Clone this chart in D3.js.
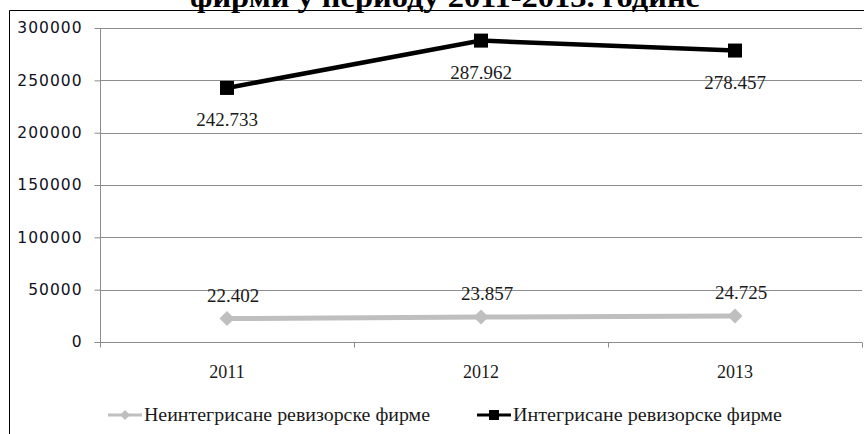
<!DOCTYPE html>
<html><head><meta charset="utf-8">
<script src="https://cdn.jsdelivr.net/npm/d3@7"></script>
<style>html,body{margin:0;padding:0;background:#fff;}svg{display:block;}</style>
</head><body>
<svg id="chart" width="864" height="434"></svg>
<script>
const title = "фирми у периоду 2011-2013. године";
const years = ["2011", "2012", "2013"];
const nonIntegrated = [22402, 23857, 24725];
const integrated = [242733, 287962, 278457];
const nonIntegratedLabels = ["22.402", "23.857", "24.725"];
const integratedLabels = ["242.733", "287.962", "278.457"];
const yTicks = [0, 50000, 100000, 150000, 200000, 250000, 300000];
const seriesNames = ["Неинтегрисане ревизорске фирме", "Интегрисане ревизорске фирме"];

const svg = d3.select("#chart");
const W = 864, H = 434;
const plot = {left: 100, right: 862, top: 28, bottom: 342};

svg.append("rect").attr("width", W).attr("height", H).attr("fill", "#fff");
// outer border
svg.append("path").attr("d", `M9.5,${H} L9.5,10.5 L${W},10.5`).attr("fill","none").attr("stroke","#000").attr("stroke-width",1);

// title (cut at top, as in the reference)
svg.append("text").attr("x", 445).attr("y", 7).attr("text-anchor","middle")
  .attr("font-family","Liberation Serif, Times New Roman, serif").attr("font-weight","bold")
  .attr("font-size", 30).attr("textLength", 510).attr("lengthAdjust", "spacingAndGlyphs")
  .attr("fill","#000").text(title);

const x = d3.scaleBand().domain(years).range([plot.left, plot.right]);
const y = d3.scaleLinear().domain([0, 300000]).range([plot.bottom, plot.top]);

// gridlines
svg.append("g").selectAll("line").data(yTicks.filter(d => d > 0)).join("line")
  .attr("x1", plot.left).attr("x2", plot.right)
  .attr("y1", d => Math.round(y(d)) + 0.5).attr("y2", d => Math.round(y(d)) + 0.5)
  .attr("stroke", "#8c8c8c").attr("stroke-width", 1);

// y axis
const yAxis = svg.append("g").attr("transform", `translate(${plot.left + 0.5},0)`)
  .call(d3.axisLeft(y).tickValues(yTicks).tickSize(6).tickPadding(12).tickFormat(d3.format("d")));
yAxis.select(".domain").attr("stroke", "#8c8c8c").attr("d", `M0,${plot.bottom} V${plot.top}`);
yAxis.selectAll(".tick line").attr("stroke", "#8c8c8c");
yAxis.selectAll(".tick text").attr("font-family", "DejaVu Sans, Tahoma, sans-serif")
  .attr("font-size", 15.5).attr("letter-spacing", "1px").attr("fill", "#111122");

// x axis
const xAxisG = svg.append("g").attr("transform", `translate(0,${Math.round(plot.bottom) + 0.5})`);
xAxisG.append("line").attr("x1", plot.left).attr("x2", plot.right).attr("stroke", "#8c8c8c");
const bounds = [plot.left, ...years.map(d => x(d) + x.bandwidth())];
xAxisG.selectAll("line.tk").data(bounds).join("line").attr("class","tk")
  .attr("x1", d => Math.round(d) + 0.5).attr("x2", d => Math.round(d) + 0.5)
  .attr("y1", 0).attr("y2", 5).attr("stroke", "#8c8c8c");
xAxisG.selectAll("text").data(years).join("text")
  .attr("x", d => x(d) + x.bandwidth() / 2).attr("y", 35).attr("text-anchor", "middle")
  .attr("font-family", "Liberation Serif, Times New Roman, serif").attr("font-size", 18)
  .attr("fill", "#1a1a1a").text(d => d);

const cx = d => x(d) + x.bandwidth() / 2;
const line = d3.line().x(d => cx(d[0])).y(d => y(d[1]));

// gray series
const grayColor = "#bfbfbf";
svg.append("path").datum(years.map((d, i) => [d, nonIntegrated[i]]))
  .attr("d", line).attr("fill", "none").attr("stroke", grayColor).attr("stroke-width", 5);
svg.append("g").selectAll("path").data(years.map((d, i) => [d, nonIntegrated[i]])).join("path")
  .attr("transform", d => `translate(${cx(d[0])},${y(d[1])})`)
  .attr("d", "M0,-7.5 L7.5,0 L0,7.5 L-7.5,0 Z").attr("fill", grayColor);

// black series
svg.append("path").datum(years.map((d, i) => [d, integrated[i]]))
  .attr("d", line).attr("fill", "none").attr("stroke", "#000").attr("stroke-width", 4.5);
svg.append("g").selectAll("rect").data(years.map((d, i) => [d, integrated[i]])).join("rect")
  .attr("x", d => cx(d[0]) - 7).attr("y", d => y(d[1]) - 7).attr("width", 14).attr("height", 14).attr("fill", "#000");

// data labels
const lblFont = "Liberation Serif, Times New Roman, serif";
svg.append("g").selectAll("text").data(years.map((d, i) => [d, integrated[i], integratedLabels[i]])).join("text")
  .attr("x", d => cx(d[0])).attr("y", d => y(d[1]) + 38).attr("text-anchor", "middle")
  .attr("font-family", lblFont).attr("font-size", 19).attr("fill", "#1a1a1a").text(d => d[2]);
svg.append("g").selectAll("text").data(years.map((d, i) => [d, nonIntegrated[i], nonIntegratedLabels[i]])).join("text")
  .attr("x", d => cx(d[0]) + 6).attr("y", d => y(d[1]) - 17).attr("text-anchor", "middle")
  .attr("font-family", lblFont).attr("font-size", 19).attr("fill", "#1a1a1a").text(d => d[2]);

// legend
const leg = svg.append("g").attr("font-family", "Liberation Serif, Cambria, serif").attr("font-size", 18).attr("fill", "#1a1a1a");
const legY = 415;
// gray
leg.append("line").attr("x1", 108).attr("x2", 142).attr("y1", legY).attr("y2", legY).attr("stroke", grayColor).attr("stroke-width", 3);
leg.append("path").attr("transform", `translate(125,${legY})`).attr("d", "M0,-5 L5,0 L0,5 L-5,0 Z").attr("fill", grayColor);
leg.append("text").attr("x", 144).attr("y", legY + 6).attr("textLength", 286).attr("lengthAdjust", "spacingAndGlyphs").text(seriesNames[0]);
// black
leg.append("line").attr("x1", 477).attr("x2", 511).attr("y1", legY).attr("y2", legY).attr("stroke", "#000").attr("stroke-width", 3);
leg.append("rect").attr("x", 489).attr("y", legY - 5).attr("width", 10).attr("height", 10).attr("fill", "#000");
leg.append("text").attr("x", 513).attr("y", legY + 6).attr("textLength", 269).attr("lengthAdjust", "spacingAndGlyphs").text(seriesNames[1]);
</script>
</body></html>
